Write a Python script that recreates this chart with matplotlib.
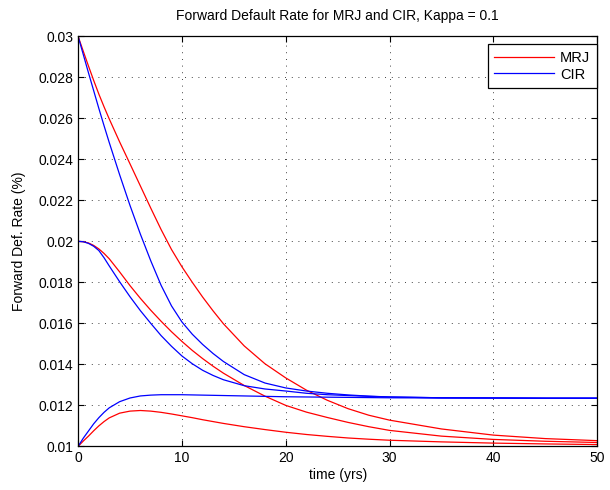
import numpy as np
import matplotlib
matplotlib.use("Agg")
import matplotlib.pyplot as plt
from matplotlib.ticker import FormatStrFormatter

plt.rcParams['font.family'] = ['Liberation Sans', 'DejaVu Sans']

# sample times (yrs)
t = [0, 0.5, 1, 1.5, 2, 2.5, 3, 4, 5, 6, 7, 8, 9, 10, 11, 12, 13, 14, 16, 18,
     20, 22, 24, 26, 28, 30, 35, 40, 45, 50]

# MRJ forward default rate, three starting levels
mrj_hi = [0.03000, 0.02927, 0.02855, 0.02785, 0.02718, 0.02656, 0.02597, 0.02485, 0.02378, 0.02270,
          0.02162, 0.02057, 0.01960, 0.01876, 0.01800, 0.01728, 0.01661, 0.01598, 0.01490, 0.01403,
          0.01334, 0.01274, 0.01225, 0.01184, 0.01152, 0.01128, 0.01085, 0.01055, 0.01038, 0.01028]
mrj_mid = [0.02000, 0.01998, 0.01992, 0.01980, 0.01963, 0.01941, 0.01915, 0.01851, 0.01784, 0.01722,
           0.01664, 0.01610, 0.01559, 0.01512, 0.01468, 0.01428, 0.01391, 0.01357, 0.01297, 0.01245,
           0.01200, 0.01167, 0.01141, 0.01117, 0.01096, 0.01078, 0.01050, 0.01034, 0.01025, 0.01019]
mrj_lo = [0.01000, 0.01026, 0.01050, 0.01076, 0.01100, 0.01121, 0.01139, 0.01162, 0.01172, 0.01175,
          0.01172, 0.01166, 0.01158, 0.01149, 0.01140, 0.01130, 0.01121, 0.01112, 0.01096, 0.01082,
          0.01069, 0.01058, 0.01049, 0.01041, 0.01035, 0.01030, 0.01022, 0.01016, 0.01012, 0.01009]

# CIR forward default rate, same starting levels
cir_hi = [0.03000, 0.02911, 0.02822, 0.02735, 0.02648, 0.02564, 0.02482, 0.02325, 0.02175, 0.02035,
          0.01905, 0.01785, 0.01685, 0.01607, 0.01547, 0.01497, 0.01453, 0.01414, 0.01350, 0.01309,
          0.01285, 0.01270, 0.01259, 0.01251, 0.01245, 0.01241, 0.01237, 0.01236, 0.01235, 0.01235]
cir_mid = [0.02000, 0.01998, 0.01990, 0.01976, 0.01955, 0.01920, 0.01880, 0.01803, 0.01730, 0.01662,
           0.01600, 0.01540, 0.01488, 0.01441, 0.01403, 0.01371, 0.01346, 0.01325, 0.01296, 0.01280,
           0.01270, 0.01259, 0.01252, 0.01248, 0.01244, 0.01241, 0.01237, 0.01236, 0.01235, 0.01235]
cir_lo = [0.01000, 0.01040, 0.01075, 0.01110, 0.01140, 0.01166, 0.01188, 0.01218, 0.01236, 0.01246,
          0.01250, 0.01252, 0.01252, 0.01252, 0.01251, 0.01250, 0.01249, 0.01248, 0.01246, 0.01244,
          0.01242, 0.01241, 0.01240, 0.01239, 0.01238, 0.01237, 0.01236, 0.01236, 0.01235, 0.01235]

fig = plt.figure(figsize=(6.1, 4.9), dpi=100)
ax = fig.add_axes([0.128, 0.089, 0.851, 0.837])

lw = 0.9
ax.plot(t, mrj_hi, color='#ff0000', lw=lw, label='MRJ')
ax.plot(t, cir_hi, color='#0000ff', lw=lw, label='CIR')
ax.plot(t, mrj_mid, color='#ff0000', lw=lw)
ax.plot(t, mrj_lo, color='#ff0000', lw=lw)
ax.plot(t, cir_mid, color='#0000ff', lw=lw)
ax.plot(t, cir_lo, color='#0000ff', lw=lw)

ax.set_xlim(0, 50)
ax.set_ylim(0.01, 0.03)
ax.set_xticks(np.arange(0, 51, 10))
ax.set_yticks(np.arange(0.01, 0.0301, 0.002))
ax.yaxis.set_major_formatter(FormatStrFormatter('%g'))

ax.grid(True, color='black', linestyle=(0, (1, 7)), linewidth=0.6)
ax.tick_params(direction='in', top=True, right=True, length=4, width=0.8, labelsize=10)
for s in ax.spines.values():
    s.set_linewidth(0.9)

ax.set_xlabel('time (yrs)', fontsize=10, labelpad=2)
ax.set_ylabel('Forward Def. Rate (%)', fontsize=10, labelpad=9)
ax.set_title('Forward Default Rate for MRJ and CIR, Kappa = 0.1', fontsize=10, pad=12)

leg = ax.legend(loc='upper right', bbox_to_anchor=(0.978, 0.910), bbox_transform=fig.transFigure,
                fontsize=10.5, fancybox=False, framealpha=1, edgecolor='black', borderaxespad=0,
                borderpad=0.45, handlelength=4.1, handletextpad=0.4, labelspacing=0.2)
leg.get_frame().set_linewidth(0.9)

fig.savefig('out.png', dpi=100)
